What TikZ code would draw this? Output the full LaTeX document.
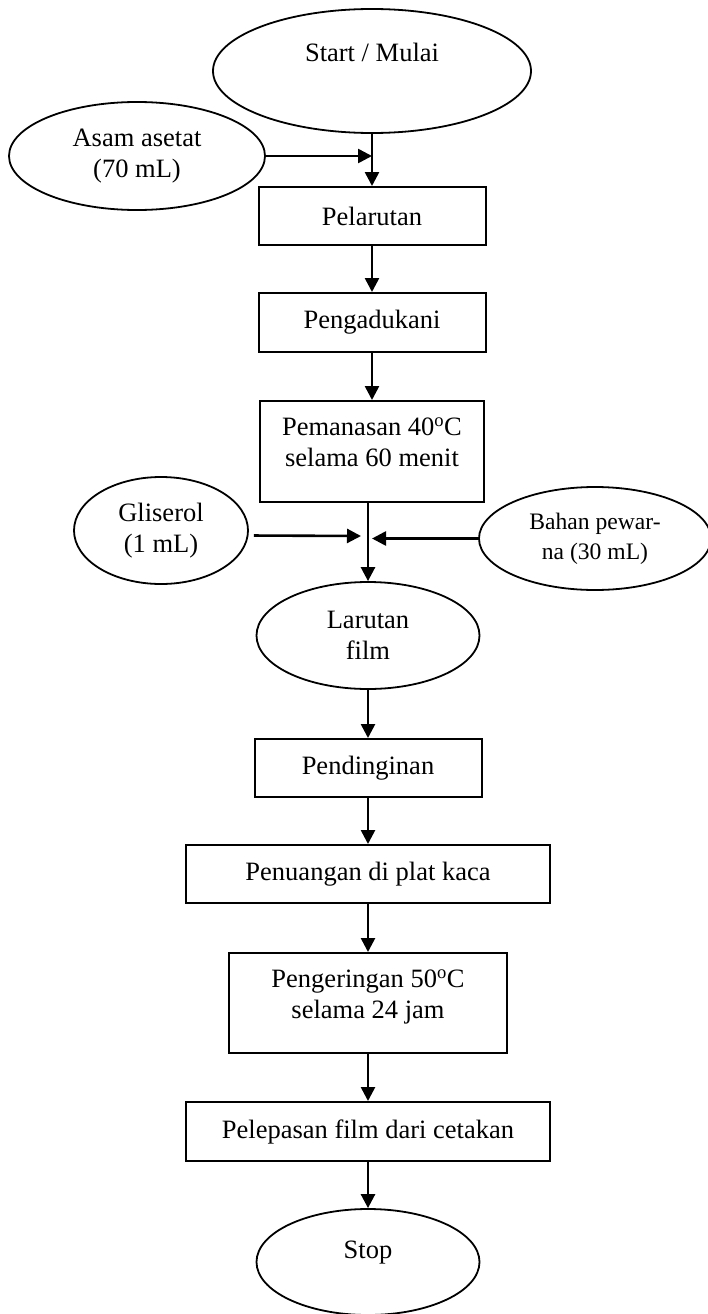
\documentclass[tikz,border=0pt]{standalone}
\usepackage{fontspec}
\setmainfont{Liberation Serif}
\usetikzlibrary{arrows.meta,shapes.geometric}

\begin{document}
\begin{tikzpicture}[%
        x=1pt, y=-1pt,
        txt/.style={font=\fontsize{26.5}{31}\selectfont, align=center, inner sep=0pt},
        term/.style={txt, draw, ellipse, line width=1.8pt},
        proc/.style={txt, draw, rectangle, line width=2pt},
        arr/.style={-{Triangle[length=14pt,width=14pt]}, line width=2.6pt},
    ]
    \useasboundingbox (0,0) rectangle (707,1314);

    % upper column
    \node[term, minimum width=318pt, minimum height=124pt] (start) at (372,71) {Start / Mulai\rule[-38pt]{0pt}{0pt}};
    \node[term, minimum width=256pt, minimum height=108pt] (asam) at (137,156) {Asam asetat\\(70 mL)};
    \node[proc, minimum width=227pt, minimum height=58pt] (pel) at (372,216) {Pelarutan};
    \node[proc, minimum width=227pt, minimum height=59pt] (pad) at (372,322.5) {Pengadukani};
    \node[proc, minimum width=224pt, minimum height=101pt] (pem) at (372,451.5) {Pemanasan 40\textsuperscript{o}C\\selama 60 menit\rule[-18pt]{0pt}{0pt}};

    % additions
    \node[term, minimum width=174pt, minimum height=107pt] (gli) at (161,530.5) {Gliserol\\(1 mL)};
    \node[term, minimum width=232pt, minimum height=103pt, font=\fontsize{23.6}{30}\selectfont] (bah) at (595,538.5) {Bahan pewar-\\na (30 mL)};

    % lower column
    \node[term, minimum width=223pt, minimum height=107pt] (lar) at (368,635.5) {Larutan\\film};
    \node[proc, minimum width=227pt, minimum height=58pt] (pend) at (368,768) {Pendinginan};
    \node[proc, minimum width=364pt, minimum height=58pt] (pen) at (368,874) {Penuangan di plat kaca};
    \node[proc, minimum width=278pt, minimum height=100pt] (peng) at (368,1003) {Pengeringan 50\textsuperscript{o}C\\selama 24 jam\rule[-18pt]{0pt}{0pt}};
    \node[proc, minimum width=364pt, minimum height=59pt] (plp) at (368,1131.5) {Pelepasan film dari cetakan};
    \node[term, minimum width=223pt, minimum height=106pt] (stop) at (368,1262) {Stop\rule[-24pt]{0pt}{0pt}};

    \coordinate (jA) at (372,156);
    \coordinate (jG) at (361,536);
    \coordinate (jB) at (372,538.5);

    \draw[arr] (start) -- (pel);
    \draw[arr] (asam.east) -- (jA);
    \draw[arr] (pel) -- (pad);
    \draw[arr] (pad) -- (pem);
    \draw[arr] (pem.south -| lar.north) -- (lar.north);
    \draw[arr, shorten <=5pt] ([yshift=-5pt]gli.east) -- (jG);
    \draw[arr] (bah.west) -- (jB);
    \draw[arr] (lar) -- (pend);
    \draw[arr] (pend) -- (pen);
    \draw[arr] (pen) -- (peng);
    \draw[arr] (peng) -- (plp);
    \draw[arr] (plp) -- (stop);
\end{tikzpicture}
\end{document}
